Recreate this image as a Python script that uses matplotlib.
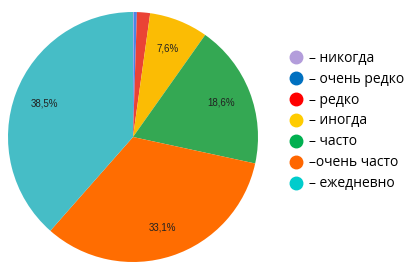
import matplotlib
matplotlib.use('Agg')
import matplotlib.pyplot as plt
from matplotlib.lines import Line2D
import numpy as np

labels = ["– никогда", "– очень редко", "– редко", "– иногда", "– часто", "–очень часто", "– ежедневно"]
values = [0.1, 0.4, 1.7, 7.6, 18.6, 33.1, 38.5]
pct_text = ["", "", "", "7,6%", "18,6%", "33,1%", "38,5%"]

pie_colors = ["#B39DDB", "#4A86E8", "#EA4335", "#FBBC04", "#34A853", "#FF6D01", "#46BDC6"]
legend_colors = ["#B39DDB", "#0070C0", "#FF0000", "#FFCC00", "#00B050", "#FF6600", "#00CCCC"]

fig = plt.figure(figsize=(4.2, 2.65), dpi=100)
# pie: centre ~ (133, 137) px, radius ~125 px
ax = fig.add_axes([8 / 420, 3 / 265, 250 / 420, 250 / 265])

wedges, _ = ax.pie(values, colors=pie_colors, startangle=90, counterclock=False,
                   wedgeprops=dict(linewidth=0))
for w, t in zip(wedges, pct_text):
    if not t:
        continue
    ang = np.deg2rad((w.theta1 + w.theta2) / 2)
    ax.text(0.76 * np.cos(ang), 0.76 * np.sin(ang), t, ha='center', va='center',
            fontsize=7, color='#222222', family='Liberation Sans')
ax.set_xlim(-1, 1)
ax.set_ylim(-1, 1)
ax.set_aspect('equal')

handles = [Line2D([], [], marker='o', linestyle='', markersize=9, color=c) for c in legend_colors]
fig.legend(handles, labels, loc='upper left', bbox_to_anchor=(283 / 420, 1 - 45 / 265),
           frameon=False, handletextpad=0.5, labelspacing=0.43,
           handlelength=1.0, borderaxespad=0, prop=dict(family='Open Sans', size=10))

fig.savefig("out.png", dpi=100)
